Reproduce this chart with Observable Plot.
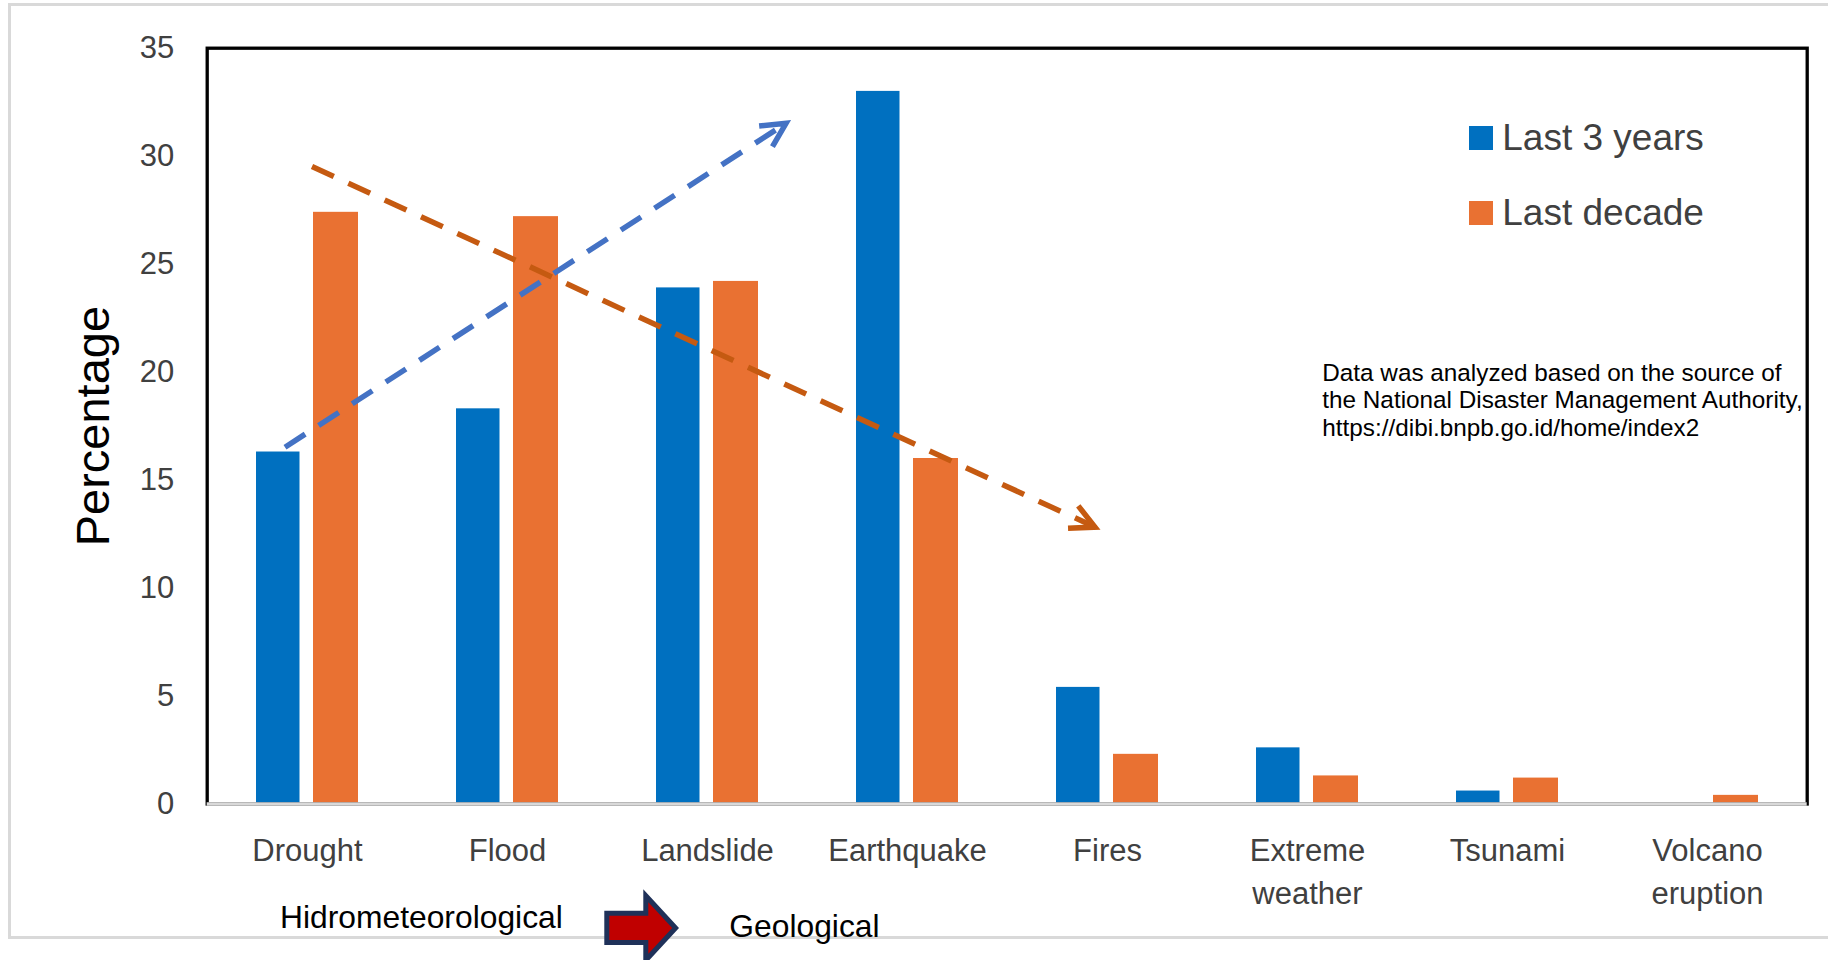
<!DOCTYPE html>
<html>
<head>
<meta charset="utf-8">
<script src="https://cdn.jsdelivr.net/npm/d3@7"></script>
<script src="https://cdn.jsdelivr.net/npm/@observablehq/plot@0.6"></script>
<style>
  html, body { margin: 0; padding: 0; background: #fff; overflow: hidden; }
  #wrap { position: relative; width: 1828px; height: 960px; overflow: hidden; background: #fff; }
  #border { position: absolute; left: 8.2px; top: 3.4px; width: 1900px; height: 935.8px;
            border: 3.3px solid #d9d9d9; box-sizing: border-box; }
  #chart { position: absolute; left: 0; top: 0; }
  #chart svg { display: block; }
  .abs { position: absolute; font-family: "Liberation Sans", Arial, sans-serif; white-space: nowrap; }
  #legend { left: 1469px; top: 119px; color: #404040; font-size: 37px; line-height: 37px; }
  .lrow { display: flex; align-items: flex-start; height: 75px; }
  .lsw { width: 23.7px; height: 23.7px; margin-top: 7px; margin-right: 9.6px; }
  #note { left: 1322.3px; top: 358.6px; font-size: 24.3px; line-height: 27.85px; color: #000; }
  #hydro { left: 280px; top: 902px; font-size: 31.8px; line-height: 31.8px; color: #000; }
  #geo { left: 729.3px; top: 910.5px; font-size: 31.8px; line-height: 31.8px; color: #000; }
  #bigArrow { position: absolute; left: 0; top: 0; }
</style>
</head>
<body>
<div id="wrap">
  <div id="border"></div>
  <div id="chart"></div>
  <div id="legend" class="abs"></div>
  <div id="note" class="abs"></div>
  <svg id="bigArrow" width="1828" height="960">
    <polygon points="606.8,913.2 645.8,913.2 645.8,895.7 675.6,928 645.8,960.3 645.8,942.6 606.8,942.6"
             fill="#C00000" stroke="#1F3159" stroke-width="5" stroke-linejoin="miter"></polygon>
  </svg>
  <div id="hydro" class="abs"></div>
  <div id="geo" class="abs"></div>
</div>
<script>
// ---------- data ----------
const categories = ["Drought", "Flood", "Landslide", "Earthquake", "Fires", "Extreme weather", "Tsunami", "Volcano eruption"];
const categoryTickLabels = ["Drought", "Flood", "Landslide", "Earthquake", "Fires", "Extreme\nweather", "Tsunami", "Volcano\neruption"];
const series = ["Last 3 years", "Last decade"];
const last3Years = [16.3, 18.3, 23.9, 33.0, 5.4, 2.6, 0.6, 0];
const lastDecade = [27.4, 27.2, 24.2, 16.0, 2.3, 1.3, 1.2, 0.4];
const seriesColors = ["#0070C0", "#E97132"];
const yTicks = [0, 5, 10, 15, 20, 25, 30, 35];
const yLabel = "Percentage";
const noteLines = ["Data was analyzed based on the source of", "the National Disaster Management Authority,", "https://dibi.bnpb.go.id/home/index2"];
const groupLabels = ["Hidrometeorological", "Geological"];
// trend annotations (category band, fraction across the band, value)
const trendFromCategory = ["Drought", "Drought"];
const trendFromFraction = [0.39, 0.525];
const trendFromValue = [16.5, 29.5];
const trendToCategory = ["Landslide", "Fires"];
const trendToFraction = [0.895, 0.44];
const trendToValue = [31.5, 12.8];
const trendColors = ["#4472C4", "#C55A11"];

// ---------- table ----------
const rows = categories.flatMap((c, i) => [
  {category: c, series: series[0], value: last3Years[i]},
  {category: c, series: series[1], value: lastDecade[i]}
]);
const tickLabelOf = new Map(categories.map((c, i) => [c, categoryTickLabels[i]]));

// custom mark: dashed trend arrows positioned through the plot's scales
function trendArrows(index, scales) {
  const x = scales.x, y = scales.y;
  const bw = x.bandwidth ? x.bandwidth() : (x(categories[1]) - x(categories[0]));
  const g = d3.create("svg:g");
  for (let i = 0; i < trendFromCategory.length; i++) {
    const x1 = x(trendFromCategory[i]) + trendFromFraction[i] * bw, y1 = y(trendFromValue[i]);
    const x2 = x(trendToCategory[i]) + trendToFraction[i] * bw, y2 = y(trendToValue[i]);
    const a = Math.atan2(y2 - y1, x2 - x1);
    const L = 27, h = 27 * Math.PI / 180;
    g.append("line")
      .attr("x1", x1).attr("y1", y1)
      .attr("x2", x2 - 3 * Math.cos(a)).attr("y2", y2 - 3 * Math.sin(a))
      .attr("stroke", trendColors[i]).attr("stroke-width", 5.5)
      .attr("stroke-dasharray", "24,16");
    g.append("path")
      .attr("d", `M${x2 - L * Math.cos(a - h)},${y2 - L * Math.sin(a - h)}L${x2},${y2}L${x2 - L * Math.cos(a + h)},${y2 - L * Math.sin(a + h)}`)
      .attr("fill", "none").attr("stroke", trendColors[i]).attr("stroke-width", 5.5)
      .attr("stroke-linejoin", "miter");
  }
  return g.node();
}

const chart = Plot.plot({
  width: 1828,
  height: 960,
  marginLeft: 206.7,
  marginRight: 21.3,
  marginTop: 47.7,
  marginBottom: 156.5,
  style: {background: "transparent", fontFamily: "'Liberation Sans', Arial, sans-serif", overflow: "visible"},
  x: {domain: categories, padding: 0, axis: null},
  y: {domain: [0, 35], axis: null},
  color: {domain: series, range: seriesColors},
  marks: [
    Plot.barY(rows.filter(d => d.series === series[0] && d.value > 0), {x: "category", y: "value", fill: "series", insetLeft: 49, insetRight: 107.5}),
    Plot.barY(rows.filter(d => d.series === series[1] && d.value > 0), {x: "category", y: "value", fill: "series", insetLeft: 106, insetRight: 49}),
    trendArrows,
    Plot.frame({stroke: "#000", strokeWidth: 3.3}),
    Plot.ruleY([0], {stroke: "#d9d9d9", strokeWidth: 3.6}),
    Plot.axisY({ticks: yTicks, tickSize: 0, tickPadding: 33, fontSize: 31, fill: "#404040", label: null}),
    Plot.axisX({tickSize: 0, tickPadding: 25.7, fontSize: 31, lineHeight: 1.4, fill: "#404040", label: null,
                tickFormat: d => tickLabelOf.get(d)}),
    Plot.text([yLabel], {frameAnchor: "left", text: d => d, rotate: -90, dx: -113, fontSize: 47,
                         textAnchor: "middle", lineAnchor: "middle", fill: "#000"})
  ]
});
document.getElementById("chart").appendChild(chart);

// legend
const legend = document.getElementById("legend");
series.forEach((s, i) => {
  const row = document.createElement("div");
  row.className = "lrow";
  const sw = document.createElement("div");
  sw.className = "lsw";
  sw.style.background = seriesColors[i];
  const t = document.createElement("span");
  t.textContent = s;
  row.appendChild(sw);
  row.appendChild(t);
  legend.appendChild(row);
});

// note
const note = document.getElementById("note");
noteLines.forEach((l, i) => {
  const d = document.createElement("div");
  d.textContent = l;
  note.appendChild(d);
});
document.getElementById("hydro").textContent = groupLabels[0];
document.getElementById("geo").textContent = groupLabels[1];
</script>
</body>
</html>
